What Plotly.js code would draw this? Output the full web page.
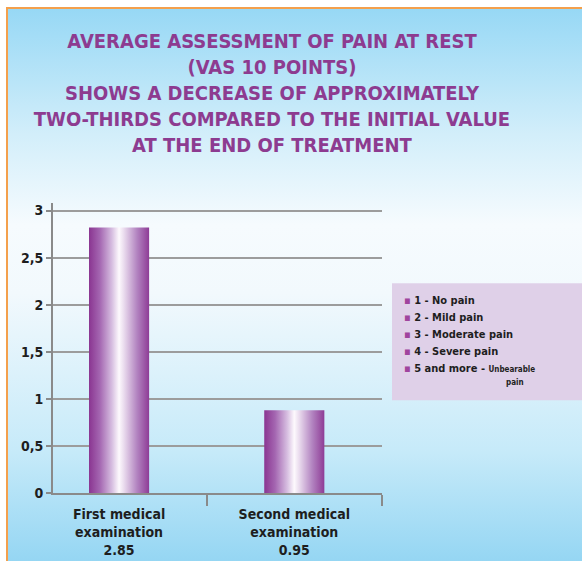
<!DOCTYPE html>
<html>
<head>
<meta charset="utf-8">
<script src="https://cdn.plot.ly/plotly-3.0.1.min.js"></script>
<style>
  html, body { margin: 0; padding: 0; background: #ffffff; }
  #wrap { position: relative; width: 582px; height: 561px; overflow: hidden; background: #ffffff; }
  #frame { position: absolute; left: 6px; top: 7px; width: 590px; height: 570px; box-sizing: border-box;
           border-left: 2px solid #f4a04c; border-top: 2px solid #f4a04c;
           background: linear-gradient(to bottom, #97d8f5 0%, #d2eefa 22%, #f6fbfe 38%, #f2f9fd 50%, #c6eaf9 78%, #8ed3f2 100%); }
  #chart { position: absolute; left: 0; top: 0; width: 582px; height: 561px; }
</style>
</head>
<body>
<div id="wrap"><div id="frame"></div><div id="chart"></div></div>
<script>
// ---- data ----
const categories = ["First medical<br>examination<br>2.85", "Second medical<br>examination<br>0.95"];
const values = [2.82, 0.88];
const yTickValues = [0, 0.5, 1, 1.5, 2, 2.5, 3];
const titleLines = [
  "AVERAGE ASSESSMENT OF PAIN AT REST",
  "(VAS 10 POINTS)",
  "SHOWS A DECREASE OF APPROXIMATELY",
  "TWO-THIRDS COMPARED TO THE INITIAL VALUE",
  "AT THE END OF TREATMENT"
];
const painScale = [
  "1 - No pain",
  "2 - Mild pain",
  "3 - Moderate pain",
  "4 - Severe pain",
  "5 and more - <span style='font-size:8px'>Unbearable</span>"
];
const painScaleTail = "pain";

// ---- styles ----
const NARROW = "Liberation Sans Narrow, DejaVu Sans Condensed, Arial Narrow, sans-serif";
const PURPLE = "#8d3b90";
const barWidth = 0.343;
const barScale = [
  [0, "#8a3591"], [0.18, "#a466b1"], [0.38, "#d6bde0"], [0.5, "#fdf9fd"],
  [0.58, "#eadcee"], [0.8, "#b283c0"], [1, "#8e3c96"]
];

const traces = values.map((v, i) => ({
  type: "scatter",
  mode: "lines",
  x: [i - barWidth / 2, i - barWidth / 2, i + barWidth / 2, i + barWidth / 2, i - barWidth / 2],
  y: [0, v, v, 0, 0],
  fill: "toself",
  fillgradient: { type: "horizontal", colorscale: barScale },
  line: { width: 0, color: "rgba(0,0,0,0)" },
  hoverinfo: "skip",
  showlegend: false
}));

// plot area in pixels: x 53..382, y 202.5..493
const PX0 = 53, PX1 = 382, PY0 = 202.5, PY1 = 493;
const px = x => (x - PX0) / (PX1 - PX0);
const py = y => (PY1 - y) / (PY1 - PY0);

const annotations = [];
const legendY = [300, 317, 334, 351, 368];
painScale.forEach((t, i) => {
  annotations.push({
    xref: "paper", yref: "paper", x: px(402), y: py(legendY[i]),
    xanchor: "left", yanchor: "middle", showarrow: false, align: "left",
    text: "<span style='color:#a0449e'>▪</span> " + t,
    font: { family: NARROW, size: 11, weight: "bold", color: "#1e1e1e" }
  });
});
annotations.push({
  xref: "paper", yref: "paper", x: px(504), y: py(382),
  xanchor: "left", yanchor: "middle", showarrow: false, align: "left",
  text: painScaleTail,
  font: { family: NARROW, size: 8, weight: "bold", color: "#1e1e1e" }
});

const layout = {
  width: 582, height: 561,
  margin: { l: PX0, r: 582 - PX1, t: PY0, b: 561 - PY1, pad: 0 },
  paper_bgcolor: "rgba(0,0,0,0)",
  plot_bgcolor: "rgba(0,0,0,0)",
  separators: ",.",
  showlegend: false,
  title: {
    text: titleLines.join("<br>"),
    font: { family: NARROW, size: 20, weight: "bold", color: PURPLE },
    x: 272 / 582, xanchor: "center", xref: "container",
    y: 1 - 48 / 561, yanchor: "top", yref: "container"
  },
  xaxis: {
    type: "linear",
    range: [-0.377, 1.5005],
    tickmode: "array",
    tickvals: [0, 1],
    ticktext: categories,
    ticks: "",
    ticklabelstandoff: 7,
    tickfont: { family: NARROW, size: 14, weight: "bold", color: "#1e1e1e" },
    minor: { tickmode: "array", tickvals: [0.5, 1.5], ticks: "outside", ticklen: 11, tickwidth: 2, tickcolor: "#8a8a8a", showgrid: false },
    showline: true, linecolor: "#8a8a8a", linewidth: 2,
    showgrid: false, zeroline: false, fixedrange: true
  },
  yaxis: {
    range: [0, 3.08],
    tickmode: "array",
    tickvals: yTickValues,
    ticks: "outside", ticklen: 5, tickwidth: 2, tickcolor: "#8a8a8a",
    tickfont: { family: NARROW, size: 14, weight: "bold", color: "#1e1e1e" },
    showline: true, linecolor: "#8a8a8a", linewidth: 2,
    showgrid: true, gridcolor: "#9c9c9c", gridwidth: 2,
    zeroline: false, fixedrange: true
  },
  shapes: [{
    type: "rect", xref: "paper", yref: "paper",
    x0: px(392), x1: px(600), y0: py(400), y1: py(283),
    fillcolor: "#dfd0e8", line: { width: 0 }, layer: "below"
  }],
  annotations: annotations
};

Plotly.newPlot("chart", traces, layout, { displayModeBar: false, staticPlot: true });
</script>
</body>
</html>
